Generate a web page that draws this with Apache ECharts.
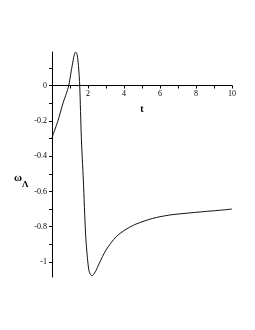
<!DOCTYPE html>
<html><head><meta charset="utf-8">
<script src="https://cdn.jsdelivr.net/npm/echarts@6/dist/echarts.min.js"></script>
<style>html,body{margin:0;padding:0;background:#fff}#c{width:255px;height:330px}</style>
</head><body><div id="c"></div>
<script>
const tValues = [0, 0.33, 0.61, 0.8, 0.93, 1.07, 1.17, 1.24, 1.31, 1.37, 1.42, 1.48, 1.54, 1.63, 1.74, 1.87, 1.98, 2.07, 2.22, 2.41, 2.63, 3.0, 3.56, 4.11, 4.67, 5.59, 6.52, 7.44, 8.37, 9.3, 10];
const omegaValues = [-0.295, -0.20, -0.10, -0.045, 0, 0.083, 0.14, 0.175, 0.19, 0.183, 0.16, 0.10, 0, -0.295, -0.534, -0.85, -0.99, -1.055, -1.079, -1.055, -1.007, -0.932, -0.857, -0.815, -0.785, -0.753, -0.734, -0.724, -0.715, -0.707, -0.70];
const xTickValues = [1,2,3,4,5,6,7,8,9,10];
const xLabelValues = [2,4,6,8,10];
const yTickValues = [-1,-0.9,-0.8,-0.7,-0.6,-0.5,-0.4,-0.3,-0.2,-0.1,0,0.1];
const yLabelValues = [-1,-0.8,-0.6,-0.4,-0.2,0];
const yMin = -1.085, yMax = 0.19;

const gridTop = 52, gridH = 225;
const zeroOffset = -(gridH - (yMax / (yMax - yMin)) * gridH);

const chart = echarts.init(document.getElementById('c'));
const font = '"Liberation Serif", "Times New Roman", serif';
chart.setOption({
  animation: false,
  backgroundColor: '#fff',
  grid: {left: 52, top: gridTop, width: 180, height: gridH},
  xAxis: {
    type: 'value', min: 0, max: 10, position: 'bottom', offset: zeroOffset,
    axisLine: {onZero: false, lineStyle: {color: '#000', width: 1}},
    axisTick: {length: 3, lineStyle: {color: '#000'}, customValues: xTickValues},
    axisLabel: {customValues: xLabelValues, fontFamily: font, fontSize: 8, color: '#000', margin: 4},
    splitLine: {show: false},
    name: 't', nameLocation: 'middle', nameGap: 19,
    nameTextStyle: {fontFamily: font, fontSize: 10, fontWeight: 'bold', color: '#000'}
  },
  yAxis: {
    type: 'value', min: yMin, max: yMax,
    axisLine: {show: true, onZero: false, lineStyle: {color: '#000', width: 1}},
    axisTick: {show: true, length: 3, lineStyle: {color: '#000'}, customValues: yTickValues},
    axisLabel: {customValues: yLabelValues, fontFamily: font, fontSize: 8, color: '#000', margin: 5,
      formatter: v => String(Math.round(v*10)/10)},
    splitLine: {show: false}
  },
  graphic: [
    {type: 'text', left: 14, top: 173, style: {text: 'ω', font: 'bold 11px ' + font, fill: '#000'}},
    {type: 'text', left: 22, top: 180, style: {text: 'Λ', font: 'bold 9px ' + font, fill: '#000'}}
  ],
  series: [{
    type: 'line', data: tValues.map((t, i) => [t, omegaValues[i]]),
    smooth: 0.25, showSymbol: false,
    lineStyle: {color: '#111', width: 1}
  }]
});
</script></body></html>
